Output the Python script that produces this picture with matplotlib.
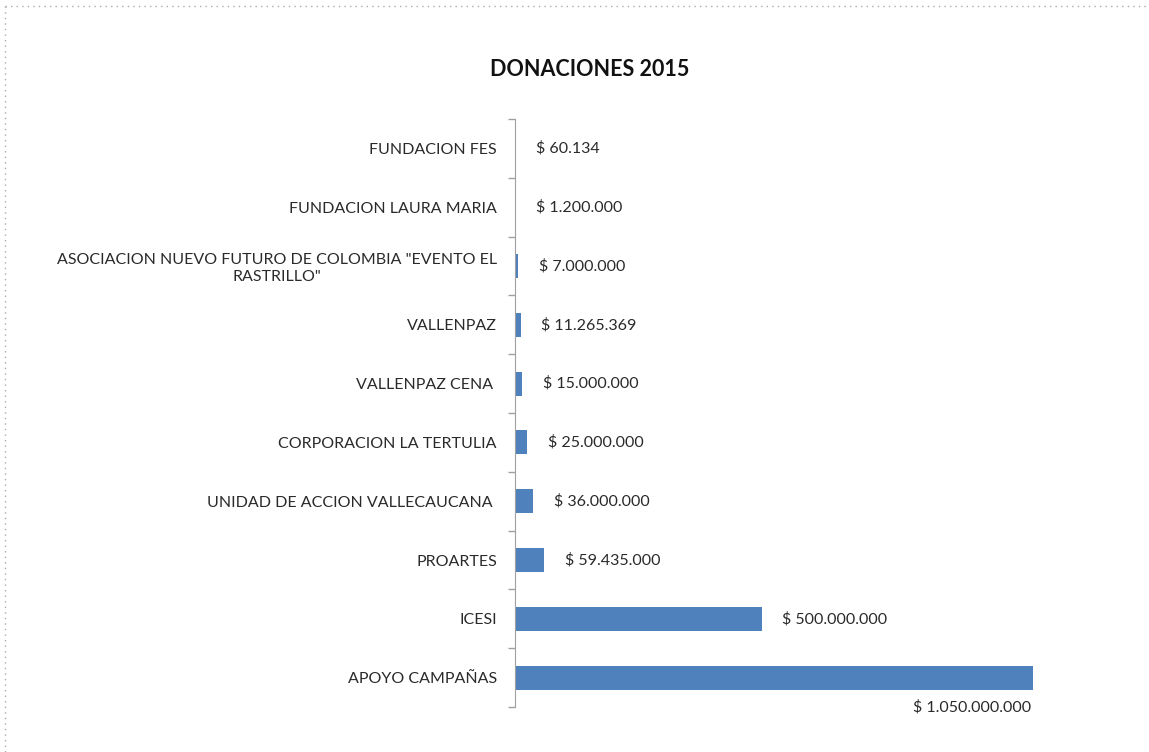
import matplotlib.pyplot as plt
from matplotlib.lines import Line2D
import numpy as np

# Datos (de abajo hacia arriba)
categorias = [
    'APOYO CAMPAÑAS',
    'ICESI',
    'PROARTES',
    'UNIDAD DE ACCION VALLECAUCANA ',
    'CORPORACION LA TERTULIA',
    'VALLENPAZ CENA ',
    'VALLENPAZ',
    'ASOCIACION NUEVO FUTURO DE COLOMBIA "EVENTO EL\nRASTRILLO"',
    'FUNDACION LAURA MARIA',
    'FUNDACION FES',
]
valores = [1050000000, 500000000, 59435000, 36000000, 25000000,
           15000000, 11265369, 7000000, 1200000, 60134]
etiquetas = ['$ 1.050.000.000', '$ 500.000.000', '$ 59.435.000', '$ 36.000.000',
             '$ 25.000.000', '$ 15.000.000', '$ 11.265.369', '$ 7.000.000',
             '$ 1.200.000', '$ 60.134']

plt.rcParams['font.family'] = ['Lato', 'DejaVu Sans']
texto = '#2a2a2a'
azul = '#4F81BD'

fig = plt.figure(figsize=(11.49, 7.52), dpi=100)
W, H = 1149, 752
ax = fig.add_axes([515 / W, 1 - 707 / H, (1033 - 515) / W, (707 - 119) / H])

y = np.arange(len(categorias))
ax.barh(y, valores, height=0.41, color=azul)
ax.set_xlim(0, 1050000000)
ax.set_ylim(-0.5, len(categorias) - 0.5)

for i, (v, lab) in enumerate(zip(valores, etiquetas)):
    if i == 0:
        ax.annotate(lab, (v, i), xytext=(-1, -16), textcoords='offset points',
                    ha='right', va='top', fontsize=11.5, color=texto)
    else:
        ax.annotate(lab, (v, i), xytext=(15, 0), textcoords='offset points',
                    ha='left', va='center', fontsize=11.5, color=texto)

ax.set_yticks(y)
ax.set_yticklabels(categorias, fontsize=11.5, color=texto)
for t in ax.get_yticklabels():
    t.set_multialignment('center')
ax.tick_params(axis='y', which='major', length=0, pad=13)
ax.set_yticks(np.arange(-0.5, len(categorias)), minor=True)
ax.tick_params(axis='y', which='minor', length=5, color='#a0a0a0', width=1)
ax.set_xticks([])

for s in ['top', 'right', 'bottom']:
    ax.spines[s].set_visible(False)
ax.spines['left'].set_color('#a0a0a0')

fig.text(590 / W, 1 - 70 / H, 'DONACIONES 2015', ha='center', va='center',
         fontsize=15.5, fontweight='bold', color='#111111')

# borde punteado
fig.add_artist(Line2D([5 / W, 1], [1 - 6 / H, 1 - 6 / H], transform=fig.transFigure,
                      color='#aaaaaa', linestyle=(0, (1, 3)), linewidth=1))
fig.add_artist(Line2D([5 / W, 5 / W], [0, 1 - 6 / H], transform=fig.transFigure,
                      color='#aaaaaa', linestyle=(0, (1, 3)), linewidth=1))

fig.savefig('out.png', dpi=100, facecolor='white')
